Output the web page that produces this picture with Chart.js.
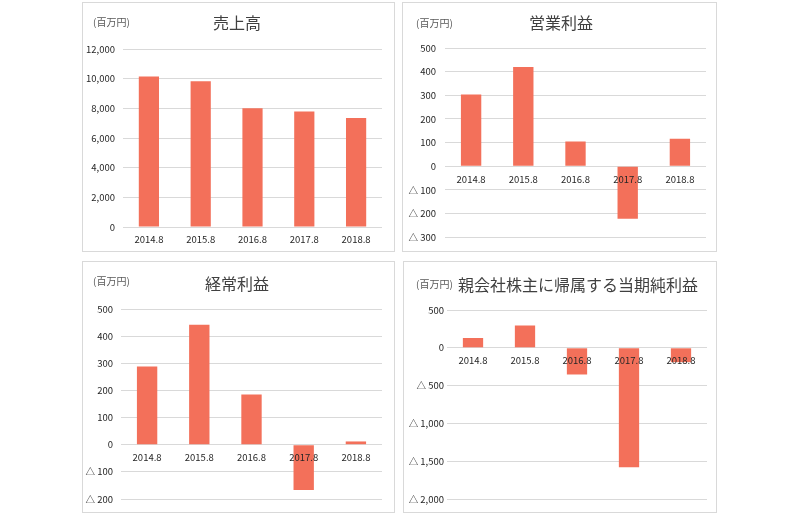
<!DOCTYPE html>
<html>
<head>
<meta charset="utf-8">
<script src="https://cdn.jsdelivr.net/npm/chart.js@4.4.1/dist/chart.umd.min.js"></script>
<style>
  html, body { margin: 0; padding: 0; background: #fff; }
  body { width: 800px; height: 514px; position: relative; overflow: hidden; }
  .panel { position: absolute; box-sizing: border-box; border: 1px solid #D9D9D9; background: #fff; }
  canvas { position: absolute; }
  .title { position: absolute; font-family: "Noto Sans CJK JP", sans-serif; font-size: 16px; color: #404040; white-space: nowrap; line-height: 1; transform: translate(-50%, -50%); }
  .unit { position: absolute; font-family: "Noto Sans CJK JP", sans-serif; font-size: 10px; color: #595959; white-space: nowrap; line-height: 1; transform: translateY(-50%); }
</style>
</head>
<body>
<div class="panel" style="left:82px;top:2px;width:313px;height:250px;"></div>
<div class="panel" style="left:402px;top:2px;width:315px;height:250px;"></div>
<div class="panel" style="left:82px;top:261px;width:313px;height:252px;"></div>
<div class="panel" style="left:403px;top:261px;width:314px;height:252px;"></div>

<canvas id="c1" width="313" height="250" style="left:82px;top:2px;"></canvas>
<canvas id="c2" width="315" height="250" style="left:402px;top:2px;"></canvas>
<canvas id="c3" width="313" height="252" style="left:82px;top:261px;"></canvas>
<canvas id="c4" width="314" height="252" style="left:403px;top:261px;"></canvas>

<div class="unit" style="left:93px;top:22px;">(百万円)</div>
<div class="title" style="left:237px;top:22px;">売上高</div>
<div class="unit" style="left:416px;top:23px;">(百万円)</div>
<div class="title" style="left:561px;top:22px;">営業利益</div>
<div class="unit" style="left:93px;top:281px;">(百万円)</div>
<div class="title" style="left:237px;top:283px;">経常利益</div>
<div class="unit" style="left:416px;top:284px;">(百万円)</div>
<div class="title" style="left:578px;top:284px;">親会社株主に帰属する当期純利益</div>

<script>
// ---- Data ----
const categories = ['2014.8', '2015.8', '2016.8', '2017.8', '2018.8'];
const salesValues = [10150, 9830, 8010, 7780, 7350];          // 売上高
const operatingIncome = [303, 420, 105, -222, 117];          // 営業利益
const ordinaryIncome = [288, 442, 185, -167, 12];            // 経常利益
const netIncome = [130, 295, -353, -1579, -190];             // 親会社株主に帰属する当期純利益

const salesTicks = { min: 0, max: 12000, step: 2000 };
const operatingTicks = { min: -300, max: 500, step: 100 };
const ordinaryTicks = { min: -200, max: 500, step: 100 };
const netTicks = { min: -2000, max: 500, step: 500 };

// ---- Rendering ----
const BAR_COLOR = '#F3705A';
const GRID_COLOR = '#D9D9D9';
const TICK_COLOR = '#262626';
const FONT_FAMILY = "'Noto Sans CJK JP', sans-serif";

function fmt(v) {
  const a = Math.abs(v).toLocaleString('en-US');
  return v < 0 ? '\u25B3 ' + a : a;
}

function makeChart(id, values, range, opt) {
  new Chart(document.getElementById(id), {
    type: 'bar',
    data: {
      labels: categories,
      datasets: [{
        data: values,
        backgroundColor: BAR_COLOR,
        borderWidth: 0,
        categoryPercentage: 1,
        barPercentage: 0.39
      }]
    },
    options: {
      responsive: false,
      animation: false,
      devicePixelRatio: 1,
      layout: { padding: opt.padding },
      plugins: { legend: { display: false }, tooltip: { enabled: false }, title: { display: false } },
      scales: {
        x: {
          position: { y: 0 },
          grid: { display: false, drawTicks: false },
          border: { display: false },
          ticks: { z: 1, color: TICK_COLOR, font: { family: FONT_FAMILY, size: 9.5 }, padding: 7, maxRotation: 0 }
        },
        y: {
          min: range.min, max: range.max,
          grid: { color: GRID_COLOR, drawTicks: false, lineWidth: 1 },
          border: { display: false },
          ticks: {
            stepSize: range.step,
            color: TICK_COLOR,
            font: { family: FONT_FAMILY, size: 9.5 },
            padding: opt.yPad,
            callback: (v) => fmt(v)
          },
          afterFit: (scale) => { scale.width = opt.yWidth; }
        }
      }
    }
  });
}

makeChart('c1', salesValues, salesTicks, { padding: { top: 47, right: 13, bottom: 25, left: 0 }, yWidth: 41, yPad: 8 });
makeChart('c2', operatingIncome, operatingTicks, { padding: { top: 46, right: 11, bottom: 14, left: 0 }, yWidth: 43, yPad: 9 });
makeChart('c3', ordinaryIncome, ordinaryTicks, { padding: { top: 48, right: 13, bottom: 14, left: 0 }, yWidth: 39, yPad: 8 });
makeChart('c4', netIncome, netTicks, { padding: { top: 49, right: 10, bottom: 14, left: 0 }, yWidth: 44, yPad: 3 });
</script>
</body>
</html>
